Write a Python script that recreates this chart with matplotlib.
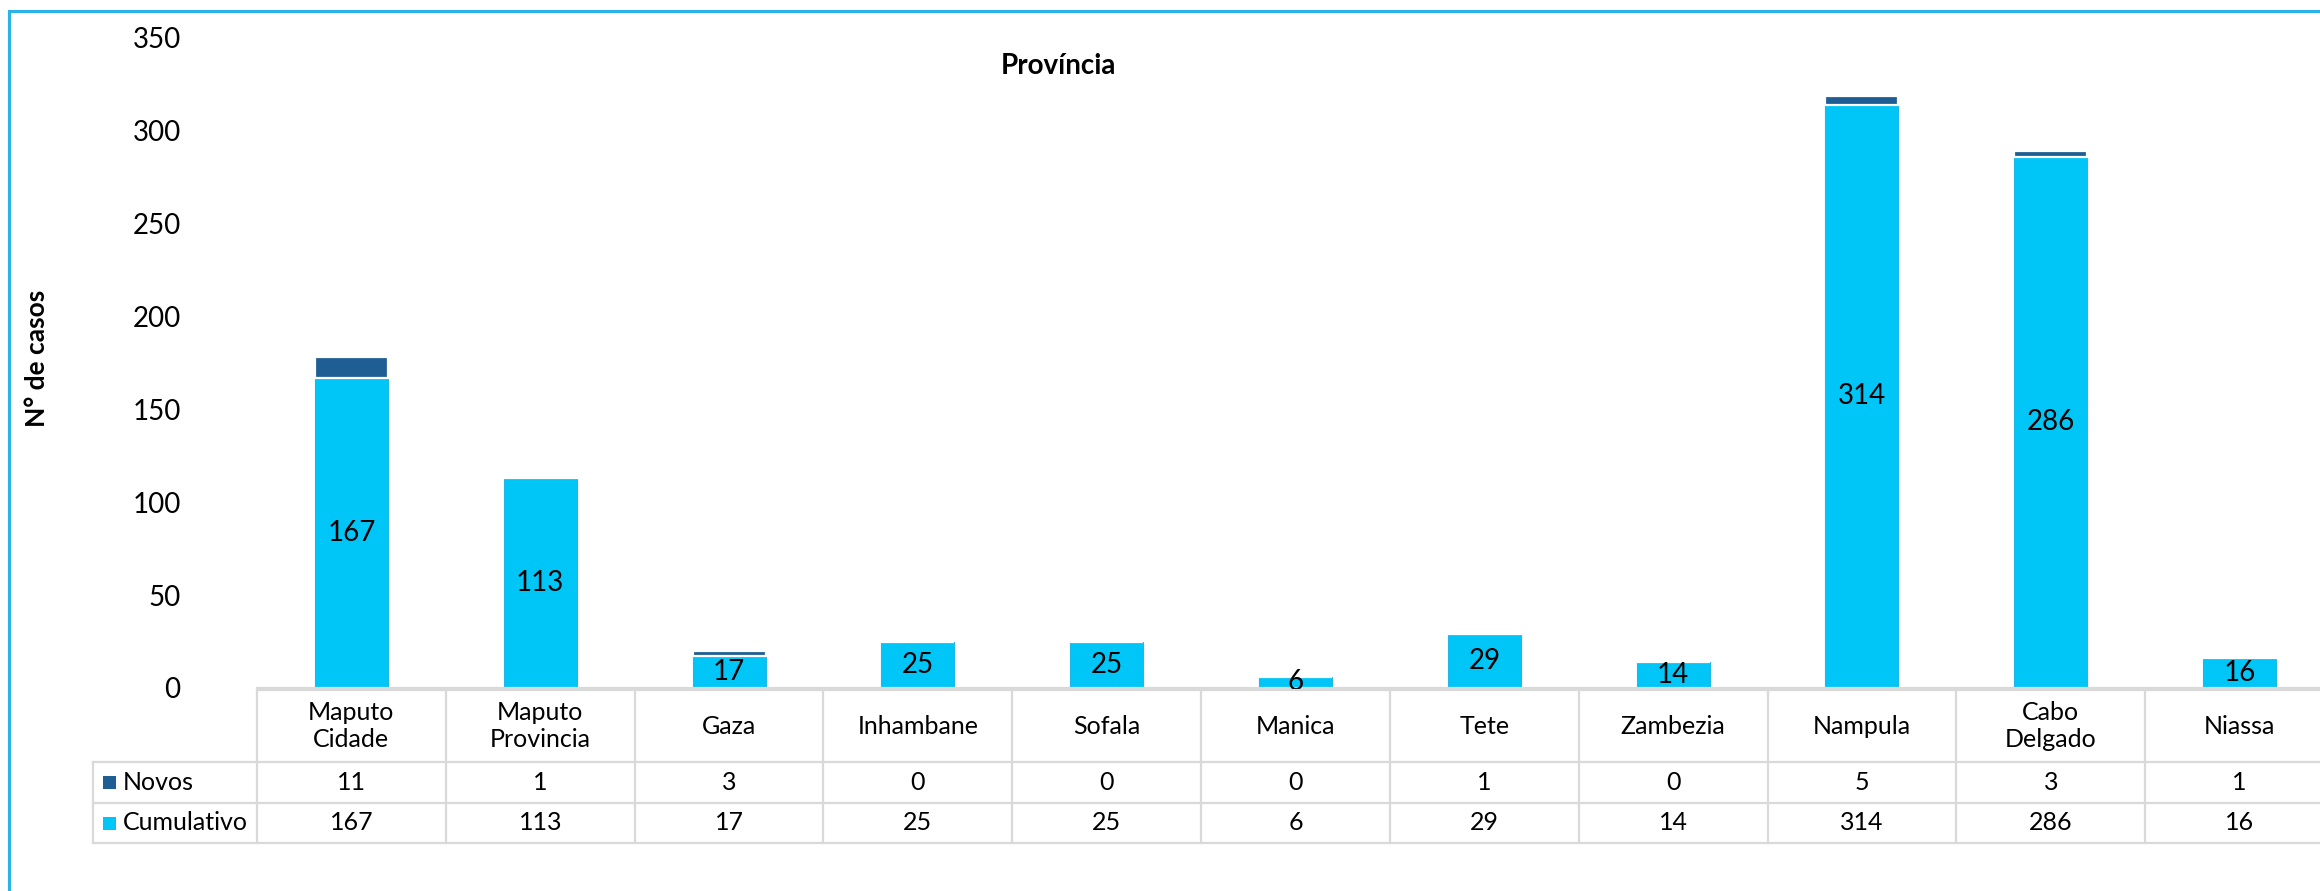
import matplotlib
matplotlib.use("Agg")
import matplotlib.pyplot as plt
from matplotlib.transforms import blended_transform_factory
from matplotlib.patches import Rectangle
from matplotlib.lines import Line2D

plt.rcParams['font.family'] = ['Lato', 'DejaVu Sans']

# ---- data ----
categories = ["Maputo\nCidade", "Maputo\nProvincia", "Gaza", "Inhambane", "Sofala",
              "Manica", "Tete", "Zambezia", "Nampula", "Cabo\nDelgado", "Niassa"]
novos = [11, 1, 3, 0, 0, 0, 1, 0, 5, 3, 1]
cumulativo = [167, 113, 17, 25, 25, 6, 29, 14, 314, 286, 16]
series_names = ["Novos", "Cumulativo"]
yticks = [0, 50, 100, 150, 200, 250, 300, 350]
title = "Província"
ylabel = "N° de casos"

# ---- style ----
W, H = 2320, 891
c_cum = "#00C6F8"
c_nov = "#1F5E93"
grid_c = "#D9D9D9"
border_c = "#2AB3E6"

fig = plt.figure(figsize=(W / 100, H / 100), dpi=100)
fig.patch.set_facecolor("white")

def fy(p):
    return 1 - p / H

ax = fig.add_axes([257 / W, fy(688), (2334 - 257) / W, (688 - 38) / H])
n = len(categories)
x = list(range(n))
bw = 0.387
ax.bar(x, cumulativo, width=bw, color=c_cum, edgecolor="#22B6E6", linewidth=0.8, zorder=2)
ax.bar(x, novos, width=bw, bottom=cumulativo, color=c_nov, edgecolor="white",
       linewidth=1.6, zorder=3)
for xi, v in zip(x, cumulativo):
    ax.text(xi, v / 2, str(v), ha="center", va="center", fontsize=20, color="black", zorder=4)

ax.set_xlim(-0.5, n - 0.5)
ax.set_ylim(0, 350)
ax.set_yticks(yticks)
ax.set_yticklabels([str(t) for t in yticks], fontsize=20)
ax.tick_params(axis="y", length=0, pad=55)
ax.set_xticks([])
for s in ["top", "right", "left"]:
    ax.spines[s].set_visible(False)
ax.spines["bottom"].set_color(grid_c)
ax.spines["bottom"].set_linewidth(1.6)

# ---- data table ----
tr = blended_transform_factory(ax.transData, fig.transFigure)
col_w_px = (2334 - 257) / n
xl = -0.5 - (257 - 93) / col_w_px   # left edge of the label column in data units
y_top, y_h, y_n, y_c = 690, 762, 803, 843

def hline(x0, x1, py):
    fig.add_artist(Line2D([x0, x1], [fy(py), fy(py)], transform=tr, color=grid_c,
                          linewidth=1.6, clip_on=False))

def vline(xv, p0, p1):
    fig.add_artist(Line2D([xv, xv], [fy(p0), fy(p1)], transform=tr, color=grid_c,
                          linewidth=1.6, clip_on=False))

hline(-0.5, n - 0.5, y_top)
for py in (y_h, y_n, y_c):
    hline(xl, n - 0.5, py)
for i in range(n + 1):
    vline(i - 0.5, y_top, y_c)
vline(xl, y_h, y_c)

for xi, cat, nv, cv in zip(x, categories, novos, cumulativo):
    fig.text(xi, fy((y_top + y_h) / 2), cat, transform=tr, ha="center", va="center",
             fontsize=18, linespacing=1.2)
    fig.text(xi, fy((y_h + y_n) / 2), str(nv), transform=tr, ha="center", va="center",
             fontsize=18)
    fig.text(xi, fy((y_n + y_c) / 2), str(cv), transform=tr, ha="center", va="center",
             fontsize=18)

for name, col, (p0, p1) in zip(series_names, [c_nov, c_cum], [(y_h, y_n), (y_n, y_c)]):
    pc = (p0 + p1) / 2
    sw = 13
    fig.add_artist(Rectangle((103 / W, fy(pc + sw / 2)), sw / W, sw / H,
                             transform=fig.transFigure, facecolor=col, edgecolor="none"))
    fig.text(123 / W, fy(pc), name, ha="left", va="center", fontsize=18)

# ---- titles ----
fig.text(1058 / W, fy(66), title, ha="center", va="center", fontsize=20, fontweight="bold")
fig.text(37 / W, fy(358), ylabel, ha="center", va="center", rotation=90,
         fontsize=19, fontweight="bold")

# ---- outer chart border ----
fig.add_artist(Rectangle((9 / W, -0.2), 1.2, fy(11) + 0.2, transform=fig.transFigure,
                         fill=False, edgecolor=border_c, linewidth=2.2))

fig.savefig("out.png", dpi=100)
